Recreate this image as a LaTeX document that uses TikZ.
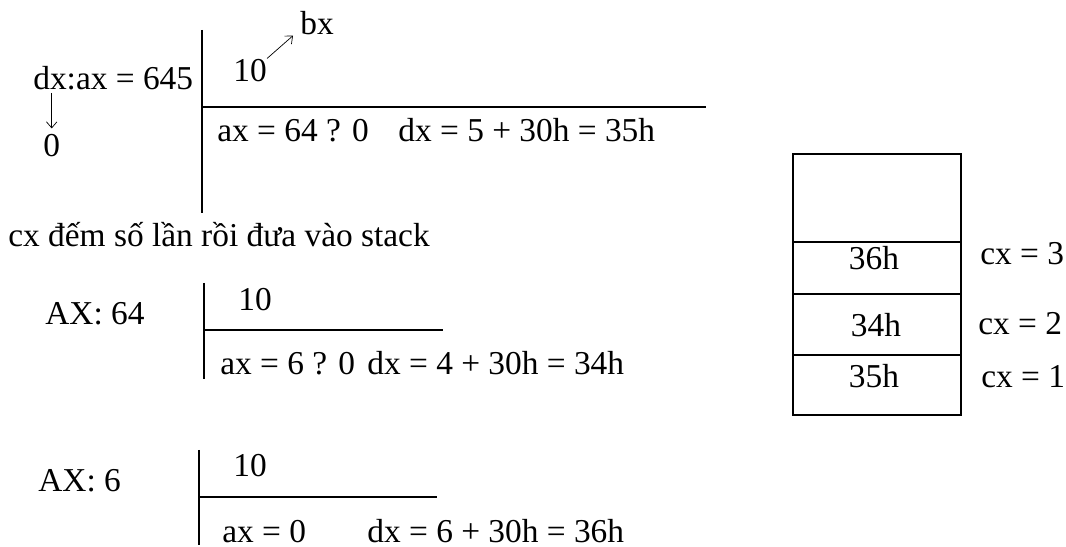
\documentclass[tikz,border=0pt]{standalone}
\usepackage{fontspec}
\setmainfont{Liberation Serif}
\usetikzlibrary{positioning,arrows.meta}

\begin{document}
\begin{tikzpicture}[x=0.02cm, y=-0.02cm,
  txt/.style={anchor=base west, inner sep=0pt, font=\fontsize{19}{22}\selectfont},
  ctxt/.style={txt, anchor=base},
  bar/.style={line width=1.1pt},
  cellline/.style={line width=0.8pt},
  arrow/.style={-{Straight Barb[length=3.5pt,width=6pt]}, thin}
]
\useasboundingbox (0,0) rectangle (1066,547);

% first division
\node[txt] (dxax) at (33,90) {dx:ax = 645};
\node[txt] (zero) at (43,157) {0};
\node[txt] (tenA) at (233,82) {10};
\node[txt] (bx) at (300,35) {bx};
\node[txt] (axA) at (217,142) {ax = 64 ? 0};
\node[txt] (dxA) at (398,142) {dx = 5 + 30h = 35h};
\draw[bar] (202,30) -- (202,213);
\draw[bar] (202,107) -- (706,107);
\draw[arrow] ([yshift=-0.04cm]dxax.south -| zero.north) -- ([yshift=0.12cm]zero.north);
\draw[arrow] ([shift={(0cm,0.02cm)}]tenA.north east) -- ([xshift=-0.14cm]bx.south west);

\node[txt] (note) at (8,247) {cx đếm số lần rồi đưa vào stack};

% second division
\node[txt] (axB) at (45,325) {AX: 64};
\node[txt] (tenB) at (238,311) {10};
\node[txt] (qB) at (220,375) {ax = 6 ? 0};
\node[txt] (dxB) at (367,375) {dx = 4 + 30h = 34h};
\draw[bar] (204,283) -- (204,379);
\draw[bar] (204,330) -- (443,330);

% third division
\node[txt] (axC) at (38,492) {AX: 6};
\node[txt] (tenC) at (233,477) {10};
\node[txt] (qC) at (222,542) {ax = 0};
\node[txt] (dxC) at (367,542) {dx = 6 + 30h = 36h};
\draw[bar] (199,450) -- (199,545);
\draw[bar] (199,497) -- (437,497);

% stack
\draw[cellline] (793,154) rectangle (961,415);
\draw[cellline] (793,242) -- (961,242);
\draw[cellline] (793,294) -- (961,294);
\draw[cellline] (793,355) -- (961,355);
\node[ctxt] (s3) at (874,270) {36h};
\node[ctxt] (s2) at (876,337) {34h};
\node[ctxt] (s1) at (874,388) {35h};
\node[txt] (cx3) at (980,265) {cx = 3};
\node[txt] (cx2) at (978,335) {cx = 2};
\node[txt] (cx1) at (981,388) {cx = 1};
\end{tikzpicture}
\end{document}
